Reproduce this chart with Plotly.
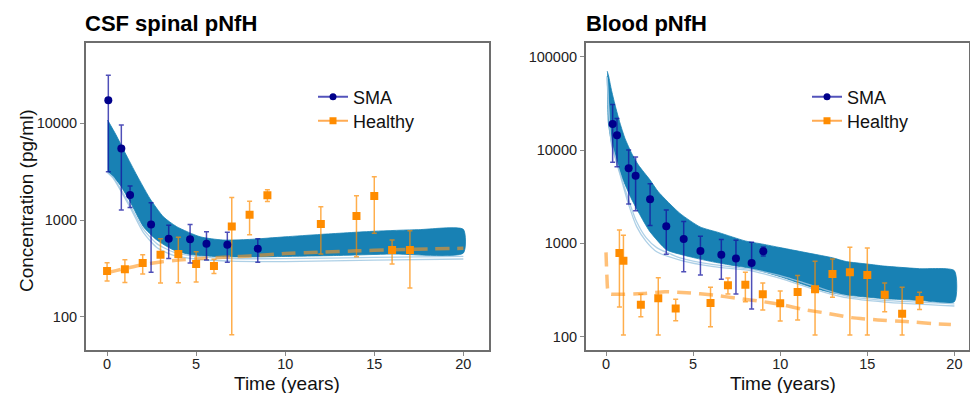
import plotly.graph_objects as go

W, H = 970, 393

# ---------------- CSF spinal pNfH (left) ----------------
csf_sma_t = [0.07, 0.8, 1.29, 2.47, 3.46, 4.66, 5.58, 6.75, 8.46]
csf_sma_y = [17300, 5470, 1815, 900, 641, 631, 569, 556, 505]
csf_sma_hi = [31400, 9600, 2250, 1510, 880, 896, 757, 745, 641]
csf_sma_lo = [3160, 1270, 1350, 288, 401, 359, 385, 365, 365]

csf_h_t = [0, 1, 2, 3, 4, 5, 6, 7, 8, 9, 12, 14, 15, 16, 17]
csf_h_y = [297, 309, 359, 438, 444, 351, 334, 859, 1135, 1799, 910, 1099, 1770, 490, 490]
csf_h_hi = [362, 389, 438, 641, 662, 470, 392, 1713, 1560, 2060, 1374, 1786, 2806, 622, 776]
csf_h_lo = [234, 226, 276, 223, 225, 228, 280, 65, 705, 1549, 445, 418, 728, 351, 198]

csf_fit_t = [0, 0.5, 1, 2, 3, 4, 5, 6, 7, 8, 10, 12, 14, 16, 18, 20]
csf_fit_y = [285, 300, 315, 345, 368, 385, 397, 407, 415, 425, 450, 465, 480, 492, 502, 510]

csf_band_up_t = [0.03, 0.5, 1.0, 1.67, 2.0, 2.42, 3.16, 3.91, 5.22, 6.5, 8, 10, 12, 15, 17.5, 20]
csf_band_up_y = [10800, 7600, 5000, 2900, 2250, 1650, 1080, 853, 671, 621, 630, 670, 710, 765, 795, 800]
csf_band_lo_t = [0.03, 0.35, 0.73, 1.29, 2.04, 2.79, 3.73, 4.66, 6, 8, 10, 13, 16, 20]
csf_band_lo_y = [3160, 2800, 2300, 1550, 853, 621, 490, 440, 420, 415, 420, 430, 445, 455]
csf_faint_t = [0.03, 0.35, 1.29, 2.04, 2.79, 3.73, 5, 7, 10, 15, 20]
csf_faint_a = [3100, 2700, 1350, 740, 520, 430, 395, 375, 372, 385, 395]
csf_faint_b = [3100, 2750, 1420, 800, 570, 465, 420, 400, 398, 410, 420]

# ---------------- Blood pNfH (right) ----------------
bl_sma_t = [0.38, 0.63, 1.3, 1.7, 2.53, 3.46, 4.46, 5.42, 6.62, 7.46, 8.36, 9.03]
bl_sma_y = [19000, 14400, 6370, 5310, 2960, 1520, 1110, 827, 756, 686, 616, 821]
bl_sma_hi = [30800, 21800, 10000, 8410, 4360, 2280, 1710, 1190, 1100, 1080, 1030, 914]
bl_sma_lo = [7380, 6630, 2640, 2240, 1550, 762, 497, 458, 411, 287, 198, 731]

bl_h_t = [0.77, 1, 2, 3, 4, 6, 7, 8, 9, 10, 11, 12, 13, 14, 15, 16, 17, 18]
bl_h_y = [787, 651, 220, 258, 200, 230, 355, 361, 284, 228, 301, 322, 469, 489, 458, 282, 176, 247]
bl_h_hi = [1390, 1220, 284, 429, 251, 338, 425, 489, 376, 308, 451, 641, 679, 906, 891, 376, 338, 299]
bl_h_lo = [208, 104, 163, 104, 148, 128, 287, 237, 193, 147, 151, 104, 264, 104, 104, 185, 104, 196]

bl_fit_t = [0, 0.05, 0.15, 0.8, 2.14, 3.39, 4.63, 6.16, 7.5, 9.03, 10.2, 11.3, 12.7, 14.1, 15.6, 17.2, 19.1, 19.8]
bl_fit_y = [800, 450, 290, 284, 290, 303, 296, 279, 258, 237, 218, 196, 178, 160, 151, 145, 137, 135]

bl_band_up_t = [0.07, 0.15, 0.3, 0.52, 0.8, 1.09, 1.5, 1.86, 2.53, 3.0, 4.25, 5.4, 6.5, 8, 9, 10, 11.7, 13, 13.8, 15, 16, 18, 20]
bl_band_up_y = [70000, 62000, 45000, 30300, 19500, 13300, 9000, 6900, 4770, 3570, 2090, 1500, 1300, 1060, 980, 900, 781, 700, 637, 600, 570, 535, 509]
bl_band_lo_t = [0.07, 0.1, 0.13, 0.3, 0.52, 0.8, 1.19, 1.5, 1.9, 2.5, 3.49, 4.3, 5.21, 6.2, 7.13, 8.28, 9.03, 10, 11, 12, 13, 13.8, 15, 16, 18, 20]
bl_band_lo_y = [62000, 32000, 20000, 12500, 8840, 5800, 3880, 2900, 2100, 1350, 848, 760, 690, 630, 586, 540, 497, 440, 380, 330, 295, 279, 265, 255, 245, 237]
bl_faint_t = [0.07, 0.3, 0.8, 1.3, 1.76, 2.3, 2.91, 4.25, 6.17, 8.28, 10, 12, 13.8, 16, 20]
bl_faint_a = [60000, 12000, 5500, 2600, 1510, 1050, 813, 662, 562, 510, 420, 320, 262, 235, 213]
bl_faint_b = [60000, 12500, 5700, 2900, 1700, 1150, 900, 700, 590, 530, 450, 345, 272, 245, 225]

x_ticks = [0, 5, 10, 15, 20]
csf_y_ticks = [100, 1000, 10000]
bl_y_ticks = [100, 1000, 10000, 100000]

BAND = "rgb(24,129,180)"
FAINT = "rgba(160,200,226,0.85)"
NAVY = "#00008B"
NAVY_ERR = "rgba(20,20,160,0.75)"
ORANGE = "#FF8C00"
ORANGE_ERR = "rgba(255,140,0,0.7)"
FIT = "rgba(255,150,30,0.6)"

fig = go.Figure()


def add_panel(xa, ya, up_t, up_y, lo_t, lo_y, fa_t, fa_a, fa_b, fit_t, fit_y,
              s_t, s_y, s_hi, s_lo, h_t, h_y, h_hi, h_lo, leg_sma, leg_h):
    fig.add_trace(go.Scatter(
        x=up_t + lo_t[::-1], y=up_y + lo_y[::-1], fill="toself",
        fillcolor=BAND, line=dict(color=BAND, width=0.8, shape="spline", smoothing=0.6),
        mode="lines", hoverinfo="skip", showlegend=False, xaxis=xa, yaxis=ya))
    for fy in (fa_a, fa_b):
        fig.add_trace(go.Scatter(
            x=fa_t, y=fy, mode="lines",
            line=dict(color=FAINT, width=1.3, shape="spline", smoothing=0.6),
            hoverinfo="skip", showlegend=False, xaxis=xa, yaxis=ya))
    fig.add_trace(go.Scatter(
        x=fit_t, y=fit_y, mode="lines",
        line=dict(color=FIT, width=3.5, dash="14px,8px", shape="spline", smoothing=0.5),
        showlegend=False, xaxis=xa, yaxis=ya))
    fig.add_trace(go.Scatter(
        x=h_t, y=h_y, mode="markers",
        marker=dict(symbol="square", size=8, color=ORANGE),
        error_y=dict(type="data", symmetric=False,
                     array=[a - b for a, b in zip(h_hi, h_y)],
                     arrayminus=[b - a for a, b in zip(h_lo, h_y)],
                     color=ORANGE_ERR, thickness=1.5, width=2.5),
        showlegend=False, xaxis=xa, yaxis=ya))
    fig.add_trace(go.Scatter(
        x=s_t, y=s_y, mode="markers",
        marker=dict(symbol="circle", size=8, color=NAVY),
        error_y=dict(type="data", symmetric=False,
                     array=[a - b for a, b in zip(s_hi, s_y)],
                     arrayminus=[b - a for a, b in zip(s_lo, s_y)],
                     color=NAVY_ERR, thickness=1.5, width=2.5),
        showlegend=False, xaxis=xa, yaxis=ya))
    # legend entries
    fig.add_trace(go.Scatter(
        x=[None], y=[None], mode="lines+markers", name="SMA",
        line=dict(color="rgba(40,40,170,0.8)", width=2),
        marker=dict(symbol="circle", size=7, color=NAVY),
        legend=leg_sma, xaxis=xa, yaxis=ya))
    fig.add_trace(go.Scatter(
        x=[None], y=[None], mode="lines+markers", name="Healthy",
        line=dict(color="rgba(255,150,40,0.8)", width=2),
        marker=dict(symbol="square", size=7, color=ORANGE),
        legend=leg_h, xaxis=xa, yaxis=ya))


add_panel("x", "y", csf_band_up_t, csf_band_up_y, csf_band_lo_t, csf_band_lo_y,
          csf_faint_t, csf_faint_a, csf_faint_b, csf_fit_t, csf_fit_y,
          csf_sma_t, csf_sma_y, csf_sma_hi, csf_sma_lo,
          csf_h_t, csf_h_y, csf_h_hi, csf_h_lo, "legend", "legend3")
add_panel("x2", "y2", bl_band_up_t, bl_band_up_y, bl_band_lo_t, bl_band_lo_y,
          bl_faint_t, bl_faint_a, bl_faint_b, bl_fit_t, bl_fit_y,
          bl_sma_t, bl_sma_y, bl_sma_hi, bl_sma_lo,
          bl_h_t, bl_h_y, bl_h_hi, bl_h_lo, "legend2", "legend4")

FONT = "Liberation Sans, Arial, sans-serif"
axis_common = dict(showline=True, mirror=True, linecolor="#6e6e6e", linewidth=1.5,
                   ticks="outside", ticklen=4, tickcolor="#8a8a8a", tickwidth=1,
                   showgrid=False, zeroline=False,
                   tickfont=dict(family=FONT, size=14.5, color="#222"))


def leg(xpx, ypx):
    return dict(x=xpx / W, y=1 - ypx / H, xanchor="left", yanchor="middle",
                font=dict(family=FONT, size=18, color="#111"), bgcolor="rgba(0,0,0,0)")


top_px, bot_px = 42.7, 350
fig.update_layout(
    width=W, height=H, margin=dict(l=0, r=0, t=0, b=0),
    paper_bgcolor="white", plot_bgcolor="white",
    font=dict(family=FONT, color="#111"),
    xaxis=dict(domain=[85.7 / W, 489 / W], range=[-1.2, 21.44], ticklabelstandoff=-4,
               tickmode="array", tickvals=x_ticks, anchor="y", **axis_common),
    yaxis=dict(domain=[1 - bot_px / H, 1 - top_px / H], type="log", range=[1.656, 4.833],
               tickmode="array", tickvals=csf_y_ticks, ticktext=[str(v) for v in csf_y_ticks],
               anchor="x", **axis_common),
    xaxis2=dict(domain=[585.7 / W, 968.5 / W], range=[-1.166, 20.81], ticklabelstandoff=-4,
                tickmode="array", tickvals=x_ticks, anchor="y2", **axis_common),
    yaxis2=dict(domain=[1 - bot_px / H, 1 - top_px / H], type="log", range=[1.857, 5.15],
                tickmode="array", tickvals=bl_y_ticks, ticktext=[str(v) for v in bl_y_ticks],
                anchor="x2", **axis_common),
    legend=leg(313, 97),
    legend3=leg(313, 121),
    legend2=leg(807, 97),
    legend4=leg(807, 121),
    annotations=[
        dict(text="<b>CSF spinal pNfH</b>", x=83 / W, y=1 - 24 / H, xref="paper", yref="paper",
             xanchor="left", yanchor="middle", showarrow=False,
             font=dict(family=FONT, size=22, color="#000")),
        dict(text="<b>Blood pNfH</b>", x=584 / W, y=1 - 24 / H, xref="paper", yref="paper",
             xanchor="left", yanchor="middle", showarrow=False,
             font=dict(family=FONT, size=22, color="#000")),
        dict(text="Time (years)", x=287 / W, y=1 - 383 / H, xref="paper", yref="paper",
             xanchor="center", yanchor="middle", showarrow=False,
             font=dict(family=FONT, size=19, color="#111")),
        dict(text="Time (years)", x=783 / W, y=1 - 383 / H, xref="paper", yref="paper",
             xanchor="center", yanchor="middle", showarrow=False,
             font=dict(family=FONT, size=19, color="#111")),
        dict(text="Concentration (pg/ml)", x=27 / W, y=1 - 201 / H, xref="paper", yref="paper",
             xanchor="center", yanchor="middle", showarrow=False, textangle=-90,
             font=dict(family=FONT, size=19, color="#111")),
    ],
)

fig.write_html("out.html")
